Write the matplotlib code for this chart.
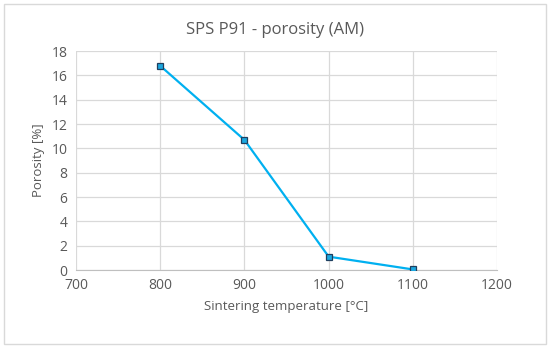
import matplotlib
matplotlib.use("Agg")
import matplotlib.pyplot as plt
from matplotlib.patches import Rectangle

# Data
temperature = [800, 900, 1000, 1100]
porosity = [16.8, 10.7, 1.1, 0.05]
x_ticks = [700, 800, 900, 1000, 1100, 1200]
y_ticks = list(range(0, 19, 2))

plt.rcParams['font.family'] = ['Open Sans', 'DejaVu Sans']
text_color = '#595959'
grid_color = '#D9D9D9'

fig = plt.figure(figsize=(5.5, 3.48), dpi=100)
ax = fig.add_axes([0.138, 0.224, 0.766, 0.629])

ax.plot(temperature, porosity, color='#00B0F0', linewidth=1.6,
        marker='s', markersize=5, markerfacecolor='#1CA8E0',
        markeredgecolor='#1F3F5F', markeredgewidth=0.9, zorder=3)

ax.set_xlim(700, 1200)
ax.set_ylim(0, 18)
ax.set_xticks(x_ticks)
ax.set_yticks(y_ticks)
ax.grid(True, color=grid_color, linewidth=0.9)
ax.set_axisbelow(True)
for side in ['top', 'right', 'left']:
    ax.spines[side].set_visible(False)
ax.spines['bottom'].set_color('#BFBFBF')
ax.tick_params(length=0, colors=text_color, labelsize=10, pad=6)

# title centred over the whole chart area, like Excel
fig.text(0.5, 0.913, 'SPS P91 - porosity (AM)', color=text_color, fontsize=12,
         ha='center', va='center')
ax.set_xlabel('Sintering temperature [°C]', color=text_color, fontsize=9.5, labelpad=5)
ax.set_ylabel('Porosity [%]', color=text_color, fontsize=9.5, labelpad=5)

# chart area border
fig.patches.append(Rectangle((0.008, 0.012), 0.984, 0.976, transform=fig.transFigure,
                             fill=False, edgecolor='#D9D9D9', linewidth=1))

fig.savefig('out.png', dpi=100)
